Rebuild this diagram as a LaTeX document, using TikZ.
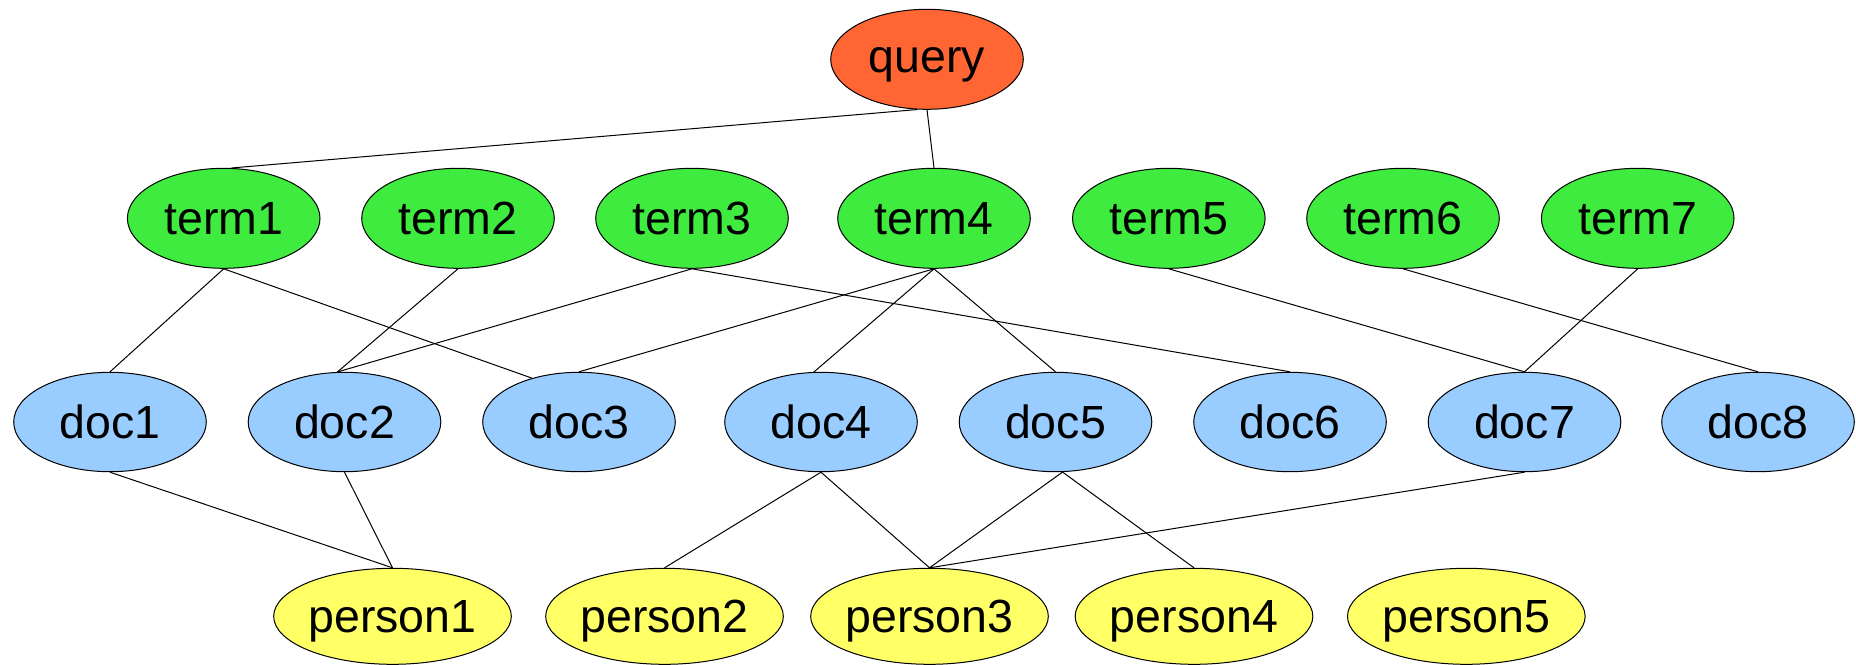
\documentclass[tikz,border=0pt]{standalone}
\usepackage{fontspec}
\setmainfont{Liberation Sans}
\usetikzlibrary{shapes.geometric}
\definecolor{queryfill}{RGB}{255,102,51}
\definecolor{termfill}{RGB}{63,235,63}
\definecolor{docfill}{RGB}{153,204,255}
\definecolor{personfill}{RGB}{255,255,102}
\begin{document}
\begin{tikzpicture}[x=0.5pt,y=-0.5pt,
  blob/.style={ellipse, draw=black, line width=0.5pt, inner sep=0pt,
    font=\fontsize{23.25}{28}\selectfont, text height=16.6pt, text depth=0pt},
  querynode/.style={blob, fill=queryfill, minimum width=96.3pt, minimum height=50pt,
    text depth=3.1pt},
  termnode/.style={blob, fill=termfill, minimum width=96.3pt, minimum height=50pt},
  docnode/.style={blob, fill=docfill, minimum width=96.3pt, minimum height=49.7pt},
  personnode/.style={blob, fill=personfill, minimum width=115.2pt, minimum height=48pt},
  link/.style={line width=0.5pt, draw=black}]
\useasboundingbox (0,0) rectangle (1856,664);

% query
\node[querynode] (q) at (927,59.3) {query};

% terms
\node[termnode] (t1) at (223.7,218.3) {term1};
\node[termnode] (t2) at (458,218.3) {term2};
\node[termnode] (t3) at (692,218.3) {term3};
\node[termnode] (t4) at (934,218.3) {term4};
\node[termnode] (t5) at (1168.8,218.3) {term5};
\node[termnode] (t6) at (1403,218.3) {term6};
\node[termnode] (t7) at (1637.7,218.3) {term7};

% documents
\node[docnode] (d1) at (110,422) {doc1};
\node[docnode] (d2) at (344.5,422) {doc2};
\node[docnode] (d3) at (579,422) {doc3};
\node[docnode] (d4) at (821,422) {doc4};
\node[docnode] (d5) at (1055.5,422) {doc5};
\node[docnode] (d6) at (1290,422) {doc6};
\node[docnode] (d7) at (1524.5,422) {doc7};
\node[docnode] (d8) at (1758,422) {doc8};

% persons
\node[personnode] (p1) at (392.5,616.3) {person1};
\node[personnode] (p2) at (664.5,616.3) {person2};
\node[personnode] (p3) at (929.5,616.3) {person3};
\node[personnode] (p4) at (1194,616.3) {person4};
\node[personnode] (p5) at (1466.3,616.3) {person5};

% query to terms
\draw[link] (q.259) -- (t1.81);
\draw[link] (q.south) -- (t4.north);

% terms to documents
\draw[link] (t1.south) -- (d1.north);
\draw[link] (t1.south) -- (d3.137);
\draw[link] (t2.south) -- (d2.98);
\draw[link] (t3.south) -- (d2.98);
\draw[link] (t3.south) -- (d6.north);
\draw[link] (t4.south) -- (d3.north);
\draw[link] (t4.south) -- (d4.98);
\draw[link] (t4.south) -- (d5.north);
\draw[link] (t5.south) -- (d7.north);
\draw[link] (t6.south) -- (d8.north);
\draw[link] (t7.south) -- (d7.north);

% documents to persons
\draw[link] (d1.south) -- (p1.north);
\draw[link] (d2.south) -- (p1.north);
\draw[link] (d4.south) -- (p2.north);
\draw[link] (d4.south) -- (p3.north);
\draw[link] (d5.-82) -- (p3.north);
\draw[link] (d5.-82) -- (p4.north);
\draw[link] (d7.south) -- (p3.north);
\end{tikzpicture}
\end{document}
